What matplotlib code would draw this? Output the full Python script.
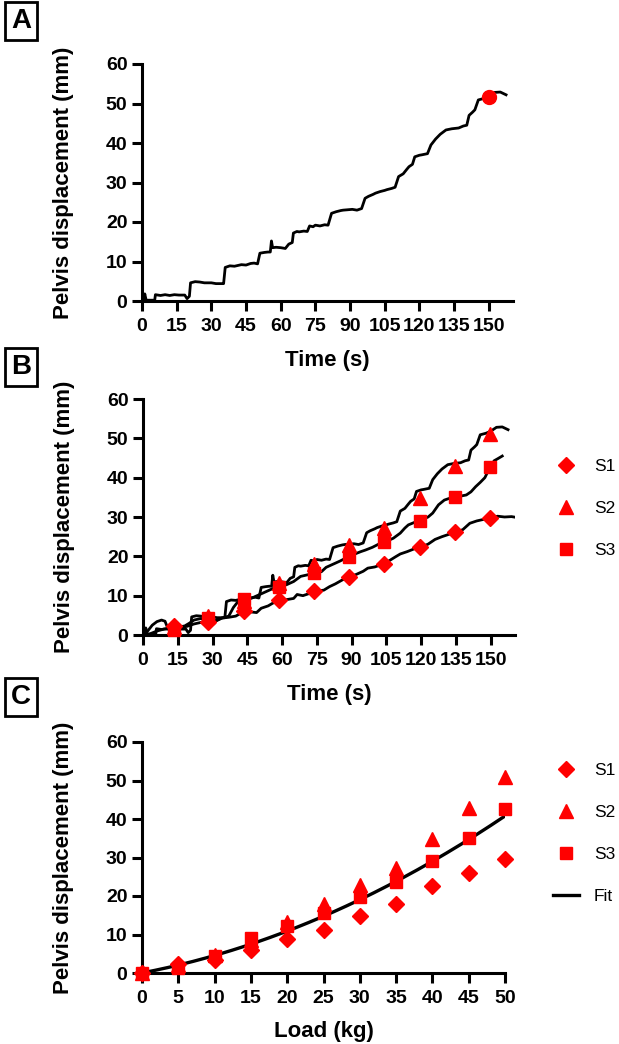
import numpy as np
import matplotlib
matplotlib.use("Agg")
import matplotlib.pyplot as plt

plt.rcParams['font.family'] = ['Liberation Sans', 'DejaVu Sans']

# ---------------- data ----------------
# Displacement trace of subject S2 (also shown in panel A): (time s, displacement mm)
s2_trace = [(0, 0), (0.8, 0), (1.2, 1.8), (1.8, 0.2), (5.5, 0.2), (5.8, 1.6), (8, 1.4), (10, 1.6),
            (12, 1.4), (14, 1.6), (16, 1.5), (18.5, 1.5), (19.5, 0.6), (20.5, 1.2), (21, 4.6),
            (23, 4.9), (25, 4.8), (27, 4.6), (30, 4.6), (32, 4.4), (34.8, 4.4), (35.3, 4.4),
            (36, 8.5), (38, 8.9), (40, 8.8), (43, 9.2), (45, 9.1), (47, 9.5), (48.5, 9.6),
            (50, 9.4), (51, 12.1), (53, 12.3), (54.5, 12.4), (55.5, 12.4), (56, 15.2), (56.5, 13.5),
            (58, 13.6), (60, 13.5), (62, 13.3), (63.5, 14.4), (65, 14.8), (65.5, 17.2), (67, 17.6),
            (68, 17.5), (70, 17.7), (71.5, 17.6), (72.5, 19.0), (74, 18.8), (75, 19.2), (77, 19.0),
            (79, 19.3), (80.5, 19.2), (82, 22.2), (84, 22.6), (86, 22.9), (87, 23.0), (89, 23.1),
            (91, 23.2), (93, 23.0), (95, 23.4), (96.5, 26.0), (98, 26.5), (100, 27.0), (101, 27.3),
            (103, 27.7), (105, 28.0), (106, 28.2), (108, 28.5), (109.5, 28.8), (111, 31.5),
            (113, 32.2), (114.5, 33.3), (115.5, 34.0), (117, 34.6), (118, 36.5), (120, 36.9),
            (121, 37.0), (123.5, 37.3), (125, 39.5), (127, 41.0), (129, 42.2), (131.5, 43.3),
            (134, 43.6), (137, 43.8), (139, 44.3), (140.5, 44.5), (141.5, 47.0), (143, 47.8),
            (144, 48.4), (145.5, 50.9), (148, 51.3), (150, 51.8), (152.5, 52.8), (155, 52.9),
            (157.5, 52.2)]

s3_trace = [(0, 0), (3, 0.3), (6, 1.0), (9, 1.5), (12, 1.6), (15, 2.0), (18, 2.3), (20, 3.0),
            (22, 3.8), (25, 4.2), (28, 3.8), (31, 3.6), (34, 4.3), (37, 4.8), (39, 7.0), (41, 8.5),
            (44, 9.0), (47, 9.4), (50, 10.2), (53, 11.0), (56, 11.8), (59, 12.4), (62, 12.8),
            (65, 13.6), (68, 14.9), (71, 15.3), (74, 15.8), (77, 16.1), (79, 17.2), (82, 18.0),
            (85, 18.8), (88, 19.7), (91, 20.5), (94, 21.2), (96, 21.6), (99, 22.3), (102, 23.2),
            (105, 23.8), (108, 24.6), (111, 25.9), (113, 27.2), (114.5, 28.0), (117, 28.6),
            (120, 29.2), (123, 30.0), (125, 31.0), (127.5, 33.1), (130, 34.3), (133, 34.9),
            (136, 35.2), (139.5, 35.6), (141.5, 36.4), (143.5, 37.7), (145.5, 38.8), (147.5, 40.0),
            (149, 41.8), (151.5, 44.3), (153, 44.8), (155, 45.5)]

s1_trace = [(0, 0), (2, 1.0), (4, 2.5), (6, 3.4), (8, 3.8), (9.5, 3.5), (10.5, 2.0), (13, 1.8),
            (16, 1.9), (19, 2.2), (22, 2.8), (25, 3.2), (28, 3.5), (31, 3.4), (34, 4.3), (37, 4.5),
            (40, 4.8), (43, 5.8), (46, 5.9), (49, 5.7), (51, 6.8), (54, 7.4), (56, 8.1), (59, 8.8),
            (62, 9.0), (65, 9.3), (66.5, 10.3), (69, 10.0), (72, 10.6), (75, 11.2), (78, 11.4),
            (80.5, 12.3), (83, 13.0), (86, 14.0), (89, 14.8), (92, 15.4), (95, 16.2), (97, 17.0),
            (100, 17.3), (103, 17.9), (106, 18.8), (109, 19.9), (111, 20.6), (114, 21.2),
            (117, 21.9), (120, 22.4), (123, 23.1), (126, 24.3), (129, 25.0), (132, 25.6),
            (135, 26.1), (138, 26.8), (141, 28.4), (144, 29.0), (147, 29.4), (150, 29.8),
            (153, 30.2), (156, 30.0), (159, 30.1), (161, 29.9)]

# Red point in panel A
point_a = (150, 51.7)

# Load steps and displacement at each load
loads = [0, 5, 10, 15, 20, 25, 30, 35, 40, 45, 50]
s1 = [0, 2.4, 3.4, 6.0, 8.9, 11.1, 14.8, 18.0, 22.5, 26.1, 29.7]
s2 = [0, 2.0, 4.8, 8.7, 13.2, 18.0, 22.8, 27.2, 34.9, 42.9, 51.0]
s3 = [0, 1.3, 4.3, 9.2, 12.1, 15.7, 19.8, 23.6, 29.0, 35.1, 42.7]
# Times at which each load step (5..50 kg) was read in panel B
marker_times = [13.2, 28.0, 43.5, 58.5, 73.8, 88.9, 104.0, 119.3, 134.4, 149.6]

time_ticks = [0, 15, 30, 45, 60, 75, 90, 105, 120, 135, 150]
disp_ticks = [0, 10, 20, 30, 40, 50, 60]
series_names = ['S1', 'S2', 'S3']

# ---------------- figure ----------------
W, H = 619, 1044
fig = plt.figure(figsize=(W / 100, H / 100), dpi=100)

def axes_px(left, right, top, bottom):
    return fig.add_axes([left / W, 1 - bottom / H, (right - left) / W, (bottom - top) / H])

RED = '#ff0000'
LW_SPINE = 2.2
TICK_FS = 14
LABEL_FS = 16
MARKERS = {'S1': dict(marker='D', ms=8.0), 'S2': dict(marker='^', ms=9.5), 'S3': dict(marker='s', ms=8.0)}

def style(ax, xmax, xticks, width_px):
    for s in ['top', 'right']:
        ax.spines[s].set_visible(False)
    for s in ['left', 'bottom']:
        ax.spines[s].set_linewidth(LW_SPINE)
    ax.set_ylim(0, 60)
    ax.set_xlim(0, xmax)
    ax.set_yticks(disp_ticks)
    ax.set_xticks(xticks)
    ax.tick_params(direction='out', length=7, width=LW_SPINE, labelsize=TICK_FS)
    ax.tick_params(axis='x', pad=5)
    ax.tick_params(axis='y', pad=3.5)
    for lab in ax.get_xticklabels() + ax.get_yticklabels():
        lab.set_fontweight('bold')
    ax.set_ylabel('Pelvis displacement (mm)', fontsize=LABEL_FS, fontweight='bold')
    ax.yaxis.set_label_coords(-(142 - 74) / width_px, 0.5)

def panel_letter(letter, cx, cy):
    fig.text(cx / W, 1 - cy / H, letter, fontsize=20, fontweight='bold', ha='center', va='center',
             bbox=dict(boxstyle='square,pad=0.2', fc='white', ec='black', lw=2.0))

LEG_KW = dict(loc='upper left', bbox_transform=fig.transFigure, frameon=False, fontsize=12.5,
              borderpad=0, borderaxespad=0, handlelength=1.5, handletextpad=0.85, labelspacing=1.55)

# ---- Panel A ----
axA = axes_px(142, 513, 64, 301)
tA, dA = zip(*s2_trace)
axA.plot(tA, dA, color='black', lw=2.0, zorder=2)
axA.plot([point_a[0]], [point_a[1]], 'o', color=RED, ms=10, zorder=3, clip_on=False)
style(axA, 160.5, time_ticks, 371)
axA.set_xlabel('Time (s)', fontsize=LABEL_FS, fontweight='bold', labelpad=11)
panel_letter('A', 21, 21)

# ---- Panel B ----
axB = axes_px(143, 515, 399, 635)
for tr in (s1_trace, s3_trace, s2_trace):
    t, d = zip(*tr)
    axB.plot(t, d, color='black', lw=2.0, zorder=2)
handles = []
for name, vals in zip(series_names, (s1, s2, s3)):
    h, = axB.plot(marker_times, vals[1:], linestyle='none', color=RED, mec=RED, zorder=3,
                  clip_on=False, **MARKERS[name])
    handles.append(h)
style(axB, 160.5, time_ticks, 372)
axB.set_xlabel('Time (s)', fontsize=LABEL_FS, fontweight='bold', labelpad=11)
axB.legend(handles, series_names, bbox_to_anchor=(553 / W, 1 - 459 / H), **LEG_KW)
panel_letter('B', 21, 367)

# ---- Panel C ----
axC = axes_px(142, 505, 742, 973)
handles = []
for name, vals in zip(series_names, (s1, s2, s3)):
    h, = axC.plot(loads, vals, linestyle='none', color=RED, mec=RED, zorder=3, clip_on=False,
                  **MARKERS[name])
    handles.append(h)
x_all = np.concatenate([loads, loads, loads]).astype(float)
y_all = np.concatenate([s1, s2, s3]).astype(float)
coef = np.polyfit(x_all, y_all, 2)
xf = np.linspace(0, 50, 200)
fit_line, = axC.plot(xf, np.polyval(coef, xf), color='black', lw=2.4, zorder=2)
handles.append(fit_line)
style(axC, 50, loads, 363)
axC.set_xlabel('Load (kg)', fontsize=LABEL_FS, fontweight='bold', labelpad=10)
axC.legend(handles, series_names + ['Fit'], bbox_to_anchor=(553 / W, 1 - 763 / H), **LEG_KW)
panel_letter('C', 21, 697)

fig.savefig('out.png', dpi=100)
